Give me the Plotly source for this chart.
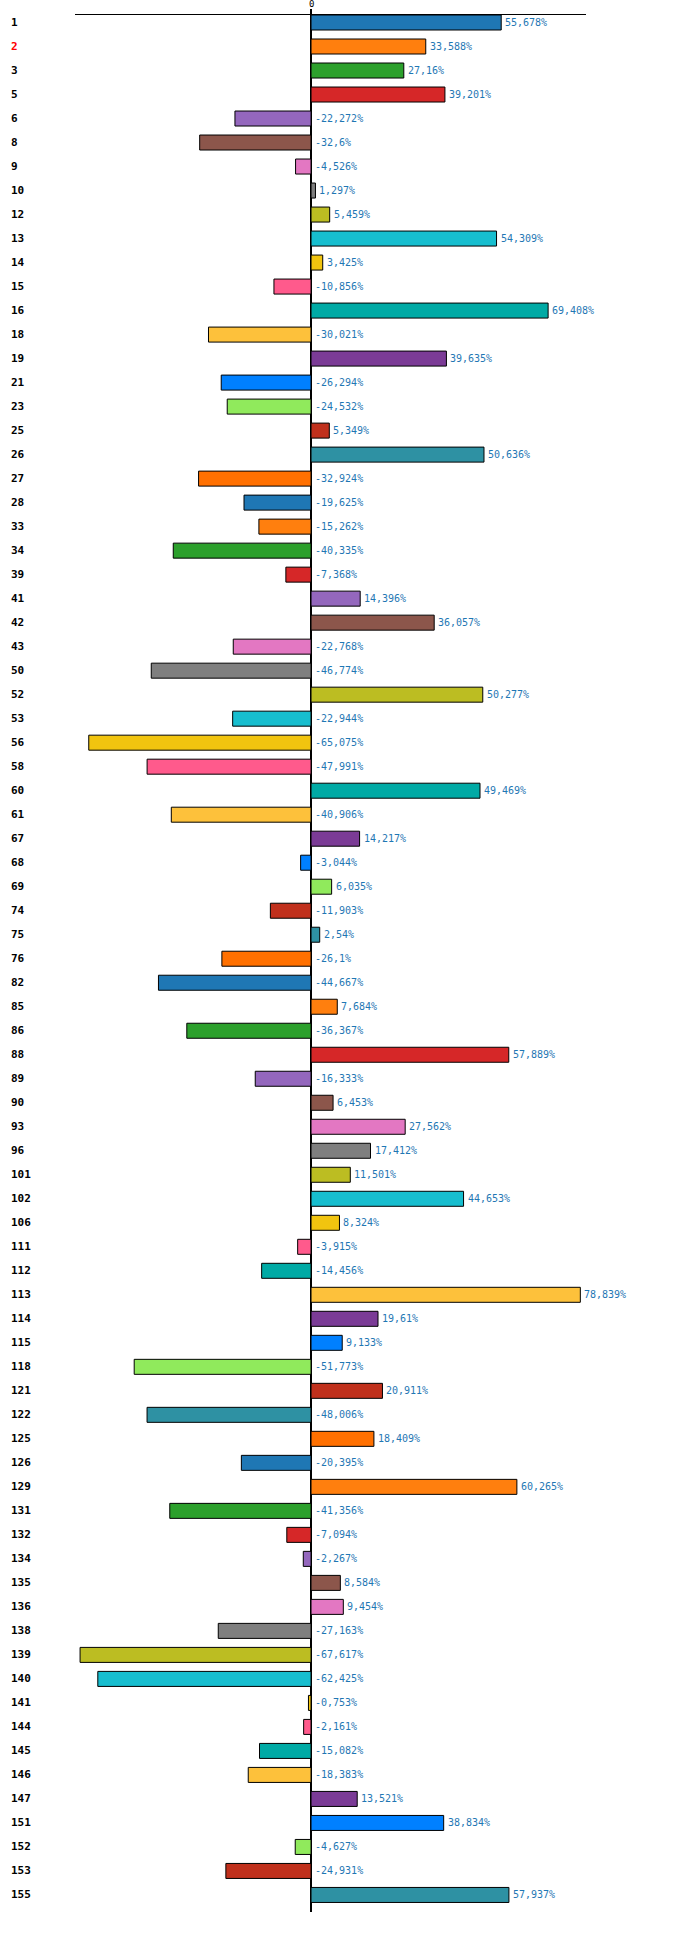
import numpy as np
import plotly.graph_objects as go

# categories (ids) and their values in %
categories = ["1", "2", "3", "5", "6", "8", "9", "10", "12", "13", "14", "15", "16", "18", "19",
              "21", "23", "25", "26", "27", "28", "33", "34", "39", "41", "42", "43", "50", "52",
              "53", "56", "58", "60", "61", "67", "68", "69", "74", "75", "76", "82", "85", "86",
              "88", "89", "90", "93", "96", "101", "102", "106", "111", "112", "113", "114", "115",
              "118", "121", "122", "125", "126", "129", "131", "132", "134", "135", "136", "138",
              "139", "140", "141", "144", "145", "146", "147", "151", "152", "153", "155"]

values = [55.678, 33.588, 27.16, 39.201, -22.272, -32.6, -4.526, 1.297, 5.459, 54.309, 3.425,
          -10.856, 69.408, -30.021, 39.635, -26.294, -24.532, 5.349, 50.636, -32.924, -19.625,
          -15.262, -40.335, -7.368, 14.396, 36.057, -22.768, -46.774, 50.277, -22.944, -65.075,
          -47.991, 49.469, -40.906, 14.217, -3.044, 6.035, -11.903, 2.54, -26.1, -44.667, 7.684,
          -36.367, 57.889, -16.333, 6.453, 27.562, 17.412, 11.501, 44.653, 8.324, -3.915,
          -14.456, 78.839, 19.61, 9.133, -51.773, 20.911, -48.006, 18.409, -20.395, 60.265,
          -41.356, -7.094, -2.267, 8.584, 9.454, -27.163, -67.617, -62.425, -0.753, -2.161,
          -15.082, -18.383, 13.521, 38.834, -4.627, -24.931, 57.937]

highlight = "2"

palette = ["#1f77b4", "#ff7f0e", "#2ca02c", "#d62728", "#9467bd", "#8c564b", "#e377c2",
           "#7f7f7f", "#bcbd22", "#17becf", "#f1c40f", "#ff5a8c", "#00aaa5", "#fdc13b",
           "#7b3b96", "#0080ff", "#90ea5c", "#c0301c", "#2e91a3", "#ff7000"]
colors = [palette[i % len(palette)] for i in range(len(categories))]

labels = [str(v).replace(".", ",") + "%" for v in values]

fig = go.Figure()
fig.add_trace(go.Bar(
    x=values, y=categories, orientation="h",
    marker=dict(color=colors, line=dict(color="black", width=1)),
    hoverinfo="skip",
))

# value labels, right of the bar end (or of the zero line for negatives)
for i, (v, t) in enumerate(zip(values, labels)):
    fig.add_annotation(
        x=max(v, 0), xref="x", xanchor="left", xshift=2, y=i, yref="y",
        text=t, showarrow=False,
        font=dict(family="DejaVu Sans Mono", size=10, color="#1f77b4"),
    )

# left aligned category labels
for i, c in enumerate(categories):
    fig.add_annotation(
        x=-0.129, xref="paper", xanchor="left", y=i, yref="y",
        text="<b>%s</b>" % c, showarrow=False,
        font=dict(family="DejaVu Sans Mono", size=11,
                  color="red" if c == highlight else "black"),
    )

# the single "0" tick label above the top axis
fig.add_annotation(
    x=0, xref="x", y=1, yref="paper", yanchor="middle", yshift=11,
    text="0", showarrow=False,
    font=dict(family="DejaVu Sans Mono", size=9, color="black"),
)

fig.update_layout(
    width=700, height=1941,
    margin=dict(l=75, r=114, t=15, b=29),
    plot_bgcolor="white", paper_bgcolor="white",
    showlegend=False, bargap=0.375,
    font=dict(family="DejaVu Sans Mono", size=10, color="black"),
    xaxis=dict(side="top", range=[-69.1, 80.5], showgrid=False, automargin=False,
               showline=True, linecolor="black", linewidth=1,
               zeroline=True, zerolinecolor="black", zerolinewidth=2,
               tickvals=[0], showticklabels=False, ticks="outside", ticklen=5,
               tickwidth=2, tickcolor="black"),
    yaxis=dict(type="category", range=[78.71, -0.3125], showticklabels=False,
               automargin=False, showgrid=False, zeroline=False, showline=False),
)

# drop the default 8px body margin so the figure sits at the window corner
fig.write_html("out.html", config={"displayModeBar": False},
               post_script="document.body.style.margin = '0';")
